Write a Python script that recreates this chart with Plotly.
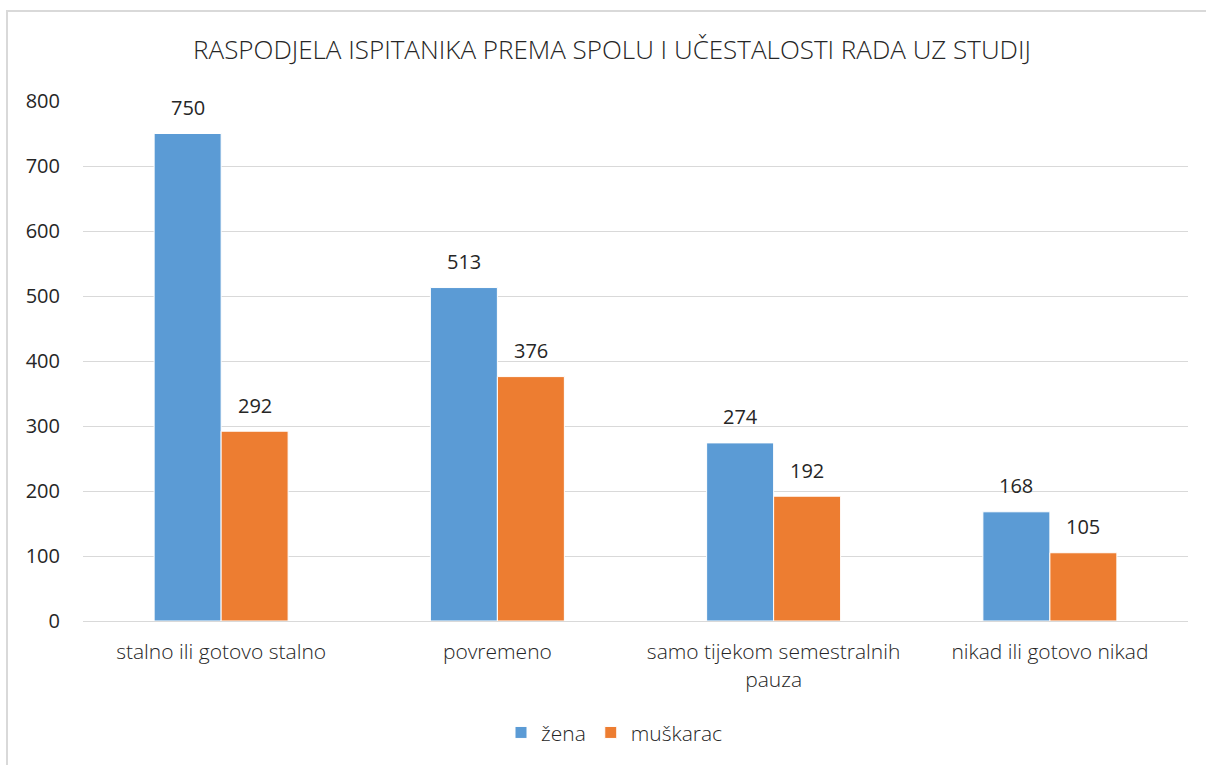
import plotly.graph_objects as go

categories = ["stalno ili gotovo stalno", "povremeno", "samo tijekom semestralnih<br>pauza", "nikad ili gotovo nikad"]
zena = [750, 513, 274, 168]
muskarac = [292, 376, 192, 105]
y_ticks = [0, 100, 200, 300, 400, 500, 600, 700, 800]

FONT = "Open Sans"
TXT = "#262626"
W, H = 1206, 765

fig = go.Figure()
fig.add_trace(go.Bar(name="žena", x=categories, y=zena,
                     marker=dict(color="#5B9BD5", line=dict(color="white", width=1))))
fig.add_trace(go.Bar(name="muškarac", x=categories, y=muskarac,
                     marker=dict(color="#ED7D31", line=dict(color="white", width=1))))

# data labels above bars
for series, shift in ((zena, -33.5), (muskarac, 33.5)):
    for c, v in zip(categories, series):
        fig.add_annotation(x=c, y=v, xref="x", yref="y", text=str(v), showarrow=False,
                           xshift=shift, yshift=26, yanchor="middle",
                           font=dict(size=20, family=FONT, color=TXT))

fig.update_layout(
    width=W, height=H,
    margin=dict(l=83, r=18, t=101, b=144),
    paper_bgcolor="white", plot_bgcolor="white",
    barmode="group", bargap=0.515, bargroupgap=0,
    font=dict(family=FONT, color=TXT, size=16),
    title=dict(text="RASPODJELA ISPITANIKA PREMA SPOLU I UČESTALOSTI RADA UZ STUDIJ",
               x=612 / W, xanchor="center", y=1 - 50 / H, yanchor="middle",
               font=dict(size=26, family=FONT, color=TXT, weight=300)),
    legend=dict(orientation="h", x=0.481, xanchor="center", y=-0.215, yanchor="middle",
                font=dict(size=21, family=FONT, color=TXT, weight=300), traceorder="normal", itemwidth=30),
)
fig.update_xaxes(showgrid=False, showline=True, linecolor="#D9D9D9", linewidth=1,
                 tickfont=dict(size=21, family=FONT, color=TXT, weight=300), ticks="", ticklabelstandoff=12)
fig.update_yaxes(range=[0, 800], tickvals=y_ticks, showgrid=True, gridcolor="#D9D9D9", gridwidth=1,
                 zeroline=False, showline=False, ticks="", tickfont=dict(size=20, family=FONT, color=TXT),
                 ticklabelstandoff=22)

# outer chart border
fig.add_shape(type="rect", xref="paper", yref="paper", x0=(7 - 83) / 1105, x1=(1300 - 83) / 1105,
              y0=(621 - 800) / 520, y1=(621 - 11) / 520, line=dict(color="#D9D9D9", width=2), layer="below")

fig.write_html("out.html", config={"displayModeBar": False},
               post_script="document.body.style.margin='0';document.body.style.overflow='hidden';")
